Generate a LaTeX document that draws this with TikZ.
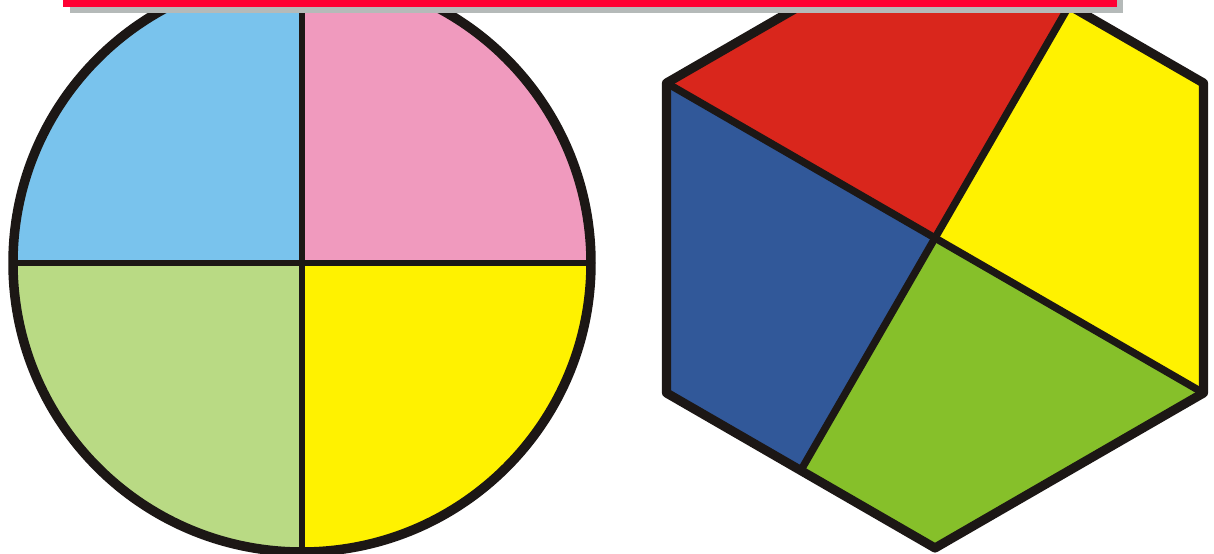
\documentclass[tikz,border=0pt]{standalone}
\usepackage{tikz}
\usetikzlibrary{calc}
\usepackage{xcolor}
\definecolor{Ink}{HTML}{1C1715}
\definecolor{SkyBlue}{HTML}{79C3ED}
\definecolor{Rose}{HTML}{F09ABE}
\definecolor{Lime}{HTML}{B9DA84}
\definecolor{Lemon}{HTML}{FFF200}
\definecolor{Scarlet}{HTML}{D9261C}
\definecolor{Navy}{HTML}{315899}
\definecolor{Grass}{HTML}{86C02A}
\definecolor{BarRed}{HTML}{FF0033}
\definecolor{BarShade}{HTML}{B5BAB9}

\begin{document}
\begin{tikzpicture}[x=0.02cm,y=-0.02cm,line join=round,
  rim/.style={draw=Ink,line width=5.4pt},
  cut/.style={draw=Ink,line width=2.9pt},
  hexcut/.style={draw=Ink,line width=4.2pt}]
\useasboundingbox (0,0) rectangle (1214,554);
\clip (0,0) rectangle (1214,554);
% circle in four quarters
\coordinate (o) at (302,263);
\foreach \a/\c in {180/SkyBlue,270/Rose,0/Lemon,90/Lime} {\fill[\c] (o) -- ++(\a:289) arc[start angle=\a,delta angle=90,radius=289] -- cycle;}
\path (o) ++(270:289) coordinate (qT) (o) ++(90:289) coordinate (qB) (o) ++(180:289) coordinate (qL) (o) ++(0:289) coordinate (qR);
\draw[cut] (qT) -- (qB);
\draw[cut] (qL) -- (qR);
\draw[rim] (o) circle[radius=289];
% hexagon in four parts
\coordinate (c) at (935,238);
\foreach \n/\a in {T/270,TL/210,BL/150,B/90,BR/30,TR/330} {\path (c) ++(\a:310) coordinate (h\n);}
\coordinate (mR) at ($(hT)!0.5!(hTR)$);
\coordinate (mL) at ($(hBL)!0.5!(hB)$);
\fill[Scarlet] (c) -- (hTL) -- (hT) -- (mR) -- cycle;
\fill[Lemon] (c) -- (mR) -- (hTR) -- (hBR) -- cycle;
\fill[Grass] (c) -- (hBR) -- (hB) -- (mL) -- cycle;
\fill[Navy] (c) -- (mL) -- (hBL) -- (hTL) -- cycle;
\foreach \p in {hTL,mR,hBR,mL} {\draw[hexcut] (c) -- (\p);}
\draw[rim,line width=5.2pt] (hT) -- (hTL) -- (hBL) -- (hB) -- (hBR) -- (hTR) -- cycle;
% title bar with its shadow
\fill[BarShade] (70,-20) rectangle (1123,12.8);
\fill[BarRed] (63,-20) rectangle (1117,7);
\end{tikzpicture}
\end{document}
